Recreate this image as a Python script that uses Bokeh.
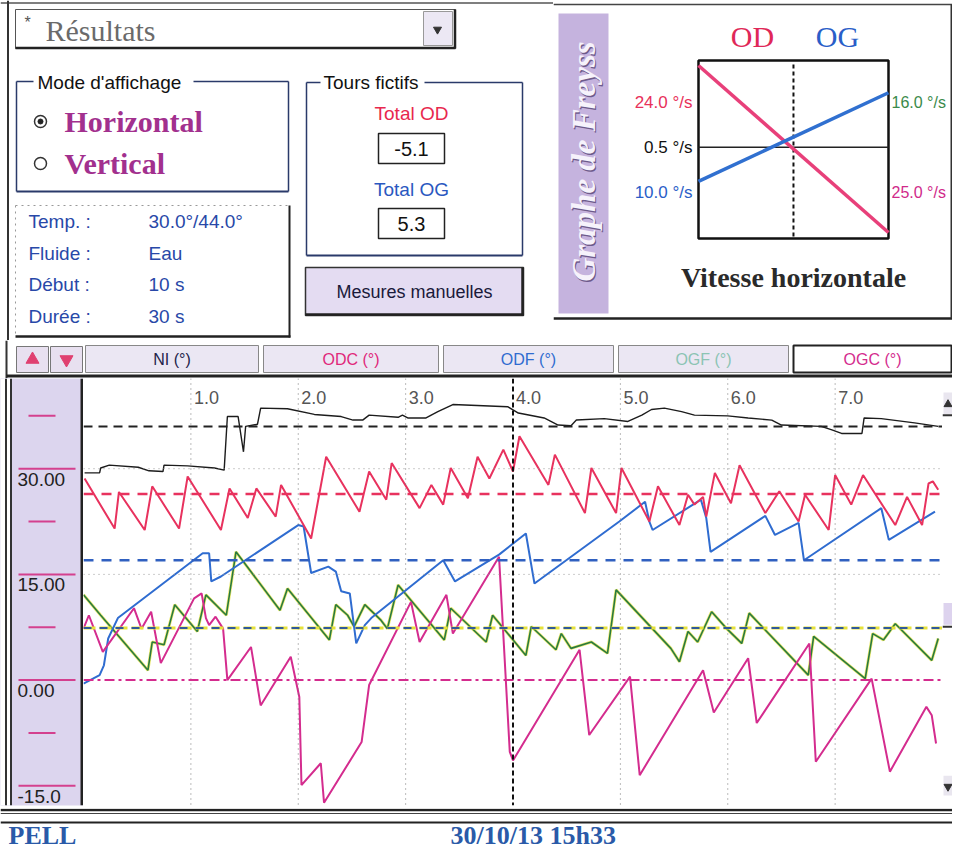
import math
from bokeh.plotting import figure
from bokeh.layouts import column, row
from bokeh.models import Range1d, Span, BoxAnnotation
from bokeh.core.properties import value
from bokeh.embed import file_html
from bokeh.resources import INLINE

# ------------------------------------------------------------------ data
# main chart (x: time scale 0..8, y: degrees as read on the left scale)
NI_X = [0.01, 0.15, 0.16, 0.24, 0.51, 0.61, 0.74, 0.75, 0.97, 1.22, 1.31, 1.34, 1.44, 1.49, 1.51, 1.62, 1.65,
        1.90, 2.15, 2.40, 2.51, 2.60, 2.66, 2.93, 2.97, 3.02, 3.19, 3.30, 3.44, 3.61, 3.95, 4.05, 4.29, 4.42,
        4.54, 4.59, 4.85, 5.07, 5.20, 5.29, 5.41, 5.57, 5.69, 6.00, 6.19, 6.41, 6.50, 6.87, 6.97, 7.06, 7.25,
        7.27, 7.43, 7.74, 7.96]
NI_Y = [29.4, 29.4, 30.1, 30.5, 30.2, 29.7, 29.6, 30.5, 30.4, 30.1, 29.8, 37.4, 37.4, 32.4, 36.0, 36.3, 38.6,
        38.5, 37.7, 37.4, 36.9, 36.9, 37.6, 37.3, 37.6, 37.2, 37.2, 38.1, 39.1, 39.0, 38.8, 37.9, 37.2, 36.2,
        36.1, 36.9, 37.1, 36.7, 37.6, 38.4, 38.6, 38.1, 37.6, 37.5, 37.2, 36.9, 36.2, 36.0, 35.5, 35.0, 35.0,
        37.2, 37.1, 36.5, 36.0]

ODC_X = [0.01, 0.29, 0.33, 0.57, 0.64, 0.89, 0.97, 1.28, 1.36, 1.53, 1.61, 1.79, 1.84, 2.12, 2.26, 2.57, 2.66,
         2.82, 2.87, 3.13, 3.24, 3.35, 3.42, 3.58, 3.67, 3.78, 3.91, 4.00, 4.06, 4.33, 4.39, 4.67, 4.73, 4.96,
         5.01, 5.27, 5.35, 5.55, 5.63, 5.69, 5.77, 5.80, 5.88, 5.97, 6.03, 6.11, 6.35, 6.48, 6.66, 6.72, 6.94,
         7.00, 7.15, 7.26, 7.56, 7.67, 7.81, 7.87, 7.91, 7.96]
ODC_Y = [28.6, 21.5, 26.7, 21.3, 27.5, 21.5, 28.9, 21.3, 27.2, 23.0, 27.2, 23.2, 27.7, 20.1, 31.7, 23.9, 29.6,
         25.6, 30.8, 24.4, 27.7, 24.9, 30.1, 25.8, 31.7, 28.6, 32.7, 29.6, 34.6, 27.7, 32.0, 23.7, 30.1, 23.7,
         30.1, 22.5, 27.5, 22.0, 26.3, 24.9, 26.0, 23.2, 29.4, 26.8, 25.1, 30.5, 23.7, 26.8, 22.5, 26.3, 21.3,
         29.1, 24.9, 29.1, 22.0, 26.0, 22.0, 27.9, 28.2, 27.0]

ODF_X = [0.0, 0.15, 0.19, 0.23, 0.32, 1.11, 1.17, 1.19, 1.28, 2.00, 2.05, 2.12, 2.28, 2.35, 2.40, 2.48, 2.54,
         2.62, 2.68, 3.35, 3.46, 3.87, 4.12, 4.20, 4.99, 5.23, 5.27, 5.30, 5.75, 5.80, 5.84, 6.35, 6.44, 6.66,
         6.71, 7.43, 7.50, 7.93]
ODF_Y = [-0.5, 0.7, 2.1, 5.9, 8.8, 18.0, 18.0, 14.0, 14.7, 22.0, 21.8, 15.2, 16.1, 15.4, 12.6, 12.3, 5.2,
         7.8, 8.8, 17.0, 14.0, 17.8, 20.8, 13.7, 22.5, 25.3, 22.5, 21.3, 25.6, 23.0, 18.2, 23.3, 20.6, 22.3,
         17.0, 24.4, 19.9, 23.9]

OGF_X = [0.0, 0.16, 0.60, 0.64, 0.75, 0.85, 1.06, 1.14, 1.33, 1.42, 1.83, 1.90, 2.29, 2.35, 2.46, 2.52, 2.62,
         2.77, 2.83, 2.93, 3.36, 3.42, 3.75, 3.81, 4.12, 4.17, 4.40, 4.45, 4.54, 4.73, 4.88, 4.96, 5.47, 5.55,
         5.63, 5.72, 5.85, 5.99, 6.13, 6.20, 6.75, 6.80, 7.28, 7.35, 7.45, 7.56, 7.90, 7.96]
OGF_Y = [12.1, 9.2, 1.4, 5.4, 5.0, 10.7, 6.9, 12.1, 9.2, 18.2, 9.9, 13.0, 5.7, 10.7, 9.2, 7.6, 10.7,
         8.5, 7.3, 13.5, 5.7, 10.2, 5.4, 9.2, 3.5, 7.6, 4.3, 6.6, 4.5, 5.4, 3.8, 12.8, 4.5, 2.6,
         6.9, 5.4, 9.7, 7.3, 5.2, 9.5, 0.7, 6.2, 0.2, 6.6, 5.7, 8.0, 2.8, 5.9]

OGC_X = [0.00, 0.05, 0.18, 0.47, 0.54, 0.63, 0.72, 1.03, 1.10, 1.14, 1.17, 1.23, 1.30, 1.34, 1.56, 1.65, 1.93,
         2.01, 2.03, 2.21, 2.24, 2.59, 2.66, 3.05, 3.13, 3.38, 3.44, 3.87, 3.97, 4.00, 4.62, 4.71, 5.09, 5.18,
         5.77, 5.87, 6.19, 6.27, 6.76, 6.82, 7.34, 7.51, 7.85, 7.90, 7.94]
OGC_Y = [7.3, 9.2, 4.0, 10.2, 7.3, 9.7, 2.4, 11.6, 12.3, 8.8, 7.8, 9.0, 7.3, 0.0, 4.7, -3.6, 3.3,
         -2.4, -14.9, -11.8, -17.4, -8.8, -0.7, 11.1, 5.4, 12.1, 6.6, 17.5, -10.2, -11.4, 4.3, -7.8, 0.5, -13.5,
         1.4, -4.6, 3.1, -6.1, 5.2, -11.6, 0.2, -13.0, -3.8, -5.0, -9.0]

LEVEL_NI, LEVEL_ODC, LEVEL_ODF, LEVEL_OGF, LEVEL_OGC = 36.0, 26.4, 17.0, 7.4, 0.0
CURSOR_X = 4.0

X_TICKS = [1, 2, 3, 4, 5, 6, 7]
X_TICK_LABELS = ["1.0", "2.0", "3.0", "4.0", "5.0", "6.0", "7.0"]
Y_TICKS = [30, 15, 0, -15]
Y_TICK_LABELS = ["30.00", "15.00", "0.00", "-15.0"]
Y_MINOR = [37.5, 22.5, 7.5, -7.5]
GRID_Y = [30, 15]

# small "Vitesse horizontale" chart
VH_X = [-1.0, 1.0]
VH_OD = [24.0, -25.0]
VH_OG = [-10.0, 16.0]
VH_LEFT_LABELS = ["24.0 °/s", "0.5 °/s", "10.0 °/s"]
VH_RIGHT_LABELS = ["16.0 °/s", "25.0 °/s"]

# panel texts
TAB_LABELS = ["NI (°)", "ODC (°)", "ODF (°)", "OGF (°)", "OGC (°)"]
INFO_KEYS = ["Temp. :", "Fluide :", "Début :", "Durée :"]
INFO_VALUES = ["30.0°/44.0°", "Eau", "10 s", "30 s"]
TOTAL_OD = "-5.1"
TOTAL_OG = "5.3"
FOOTER_NAME = "PELL"
FOOTER_DATE = "30/10/13 15h33"

# ------------------------------------------------------------------ styles
SANS = "Liberation Sans"
SERIF = "Liberation Serif"
RED = "#e8325e"
BLUE = "#2f6cd0"
GREEN = "#2a7a40"
YELLOW = "#e6e23a"
MAGENTA = "#d42c8e"
BLACK = "#1c1c1c"
BAND = "#dcd5ee"
TABFILL = "#ebe7f3"
TAB_COLORS = ["#23234a", "#e0287a", BLUE, "#8cc4b4", MAGENTA]
INFO_BLUE = "#2848a8"


def canvas(w, h, x0, x1, y_top, y_bottom, bg="white"):
    p = figure(width=w, height=h, x_range=Range1d(x0, x1), y_range=Range1d(y_bottom, y_top),
               x_axis_type=None, y_axis_type=None, toolbar_location=None, output_backend="svg",
               min_border=0, outline_line_color=None, background_fill_color=bg, border_fill_color=bg)
    return p


def txt(p, x, y, s, size, color, font=SANS, style="normal", align="left", baseline="middle", angle=0.0):
    p.text(x=[x], y=[y], text=[s], text_font=value(font), text_font_size=f"{size}px",
           text_font_style=style, text_color=color, text_align=align, text_baseline=baseline, angle=angle)


def seg(p, x0, y0, x1, y1, color="#222", w=1.0, dash="solid"):
    p.segment(x0=[x0], y0=[y0], x1=[x1], y1=[y1], line_color=color, line_width=w, line_dash=dash)


def box(p, l, r, t, b, fill=None, line=None, w=1.0):
    p.quad(left=[l], right=[r], top=[t], bottom=[b], fill_color=fill, line_color=line, line_width=w)


# ------------------------------------------------------------------ top-left panel
tl = canvas(553, 340, 0, 553, 0, 340)
seg(tl, 0, 2.5, 553, 2.5, "#555", 1.5)
seg(tl, 7.5, 0, 7.5, 340, "#333", 2)
# combo box
box(tl, 15, 455, 9, 48, fill="white", line="#555", w=1)
seg(tl, 15, 47.5, 455, 47.5, "#222", 2.5)
seg(tl, 454.5, 9, 454.5, 48, "#222", 2.5)
box(tl, 423, 452, 11, 45, fill="#ece8f4", line="#999", w=1)
tl.scatter(x=[437], y=[29], marker="inverted_triangle", size=8, fill_color="#333", line_color="#333")
txt(tl, 24, 22, "*", 16, "#555")
txt(tl, 45, 30, "Résultats", 30, "#6a6a6a", font=SERIF)
# Mode d'affichage group
GB = "#2a3a6a"
seg(tl, 16, 81, 33, 81, GB, 1.5)
seg(tl, 193, 81, 288, 81, GB, 1.5)
seg(tl, 16, 81, 16, 191, GB, 1.5)
seg(tl, 16, 191, 288, 191, GB, 2)
seg(tl, 288, 81, 288, 191, GB, 1.5)
txt(tl, 37, 82, "Mode d'affichage", 19, "#111")
tl.scatter(x=[40, 40], y=[121, 163], size=12, marker="circle", fill_color="white", line_color="#333", line_width=1.5)
tl.scatter(x=[40], y=[121], size=5, marker="circle", fill_color="#222", line_color="#222")
txt(tl, 64, 121, "Horizontal", 30, "#a2308e", font=SERIF, style="bold")
txt(tl, 64, 163, "Vertical", 30, "#a2308e", font=SERIF, style="bold")
# info box
seg(tl, 15, 205, 290, 205, "#999", 1, "2 4")
seg(tl, 15, 205, 15, 336, "#999", 1, "2 4")
seg(tl, 289, 205, 289, 337, "#222", 2)
seg(tl, 15, 336, 290, 336, "#222", 2.5)
for i, (k, v) in enumerate(zip(INFO_KEYS, INFO_VALUES)):
    yy = 221 + i * 31.7
    txt(tl, 28, yy, k, 19, INFO_BLUE)
    txt(tl, 148, yy, v, 19, INFO_BLUE)
# Tours fictifs group
seg(tl, 306, 82, 320, 82, GB, 1.5)
seg(tl, 424, 82, 522, 82, GB, 1.5)
seg(tl, 306, 82, 306, 255, GB, 1.5)
seg(tl, 306, 255, 522, 255, GB, 2)
seg(tl, 522, 82, 522, 255, GB, 1.5)
txt(tl, 323, 82, "Tours fictifs", 19, "#111")
txt(tl, 411, 113, "Total OD", 19, "#e8284e", align="center")
box(tl, 378, 444, 133, 163, fill="white", line="#222", w=1.5)
txt(tl, 411, 148, TOTAL_OD, 20, "#111", align="center")
txt(tl, 411, 189, "Total OG", 19, "#2a58c0", align="center")
box(tl, 378, 444, 208, 238, fill="white", line="#222", w=1.5)
txt(tl, 411, 223, TOTAL_OG, 20, "#111", align="center")
# button
box(tl, 305, 523, 267, 315, fill="#e4dcf2", line="#333", w=1.5)
seg(tl, 305, 314, 523, 314, "#222", 2.5)
seg(tl, 522, 267, 522, 315, "#222", 2.5)
txt(tl, 414, 291, "Mesures manuelles", 18, "#1a1a3a", align="center")

# ------------------------------------------------------------------ top-right panel (Freyss graph)
tr = canvas(399, 340, 553, 952, 0, 340)
tr.extra_x_ranges = {"vx": Range1d(-2.526, 1.674)}
tr.extra_y_ranges = {"vy": Range1d(-56.69, 43.075)}
seg(tr, 553, 4, 952, 4, "#444", 1.5)
box(tr, 558, 608, 13, 313, fill="#c5b3de")
txt(tr, 584.5, 162.5, "Graphe de Freyss", 33, "#6d5a8a", font=SERIF, style="bold italic",
    align="center", angle=math.pi / 2)
txt(tr, 583, 161, "Graphe de Freyss", 33, "#f6f2fb", font=SERIF, style="bold italic",
    align="center", angle=math.pi / 2)
seg(tr, 553, 318, 952, 318, "#222", 2.5)
seg(tr, 951, 4, 951, 318, "#333", 2)
txt(tr, 752, 36, "OD", 30, "#e02858", font=SERIF, align="center")
txt(tr, 837, 36, "OG", 30, "#2a5ec8", font=SERIF, align="center")
box(tr, 698, 888, 60, 238, fill="white", line="#111", w=2.5)
tr.line(x=[0, 0], y=[-26.2, 25.0], x_range_name="vx", y_range_name="vy",
        line_color="#111", line_width=2, line_dash="4 3")
tr.line(x=VH_X, y=[0, 0], x_range_name="vx", y_range_name="vy", line_color="#222", line_width=1.5)
tr.line(x=VH_X, y=VH_OD, x_range_name="vx", y_range_name="vy", line_color="#e8407a", line_width=3.5)
tr.line(x=VH_X, y=VH_OG, x_range_name="vx", y_range_name="vy", line_color="#3070d0", line_width=3.5)
for s, yy, c in zip(VH_LEFT_LABELS, [102, 147, 192], ["#e8305a", "#111", "#2a5ec8"]):
    txt(tr, 692, yy, s, 17, c, align="right")
for s, yy, c in zip(VH_RIGHT_LABELS, [102, 192], ["#3a8a4a", "#d02a8a"]):
    txt(tr, 891, yy, s, 16, c)
txt(tr, 793, 277, "Vitesse horizontale", 28, "#2a2a2a", font=SERIF, style="bold", align="center")

# ------------------------------------------------------------------ tab bar
tabs = canvas(952, 38, 0, 952, 340, 378)
seg(tabs, 6, 340, 6, 378, "#333", 2)
box(tabs, 16, 48, 346, 372, fill="#e8e0f0", line="#777")
box(tabs, 50, 82, 346, 372, fill="#e8e0f0", line="#777")
tabs.scatter(x=[32], y=[359], marker="triangle", size=13, fill_color="#e04070", line_color="#e04070")
tabs.scatter(x=[66], y=[359], marker="inverted_triangle", size=13, fill_color="#e04070", line_color="#e04070")
TAB_EDGES = [(85, 258), (263, 438), (443, 613), (618, 788), (793, 951)]
for i, ((l, r), lab, c) in enumerate(zip(TAB_EDGES, TAB_LABELS, TAB_COLORS)):
    sel = i == len(TAB_LABELS) - 1
    box(tabs, l, r, 345, 372, fill="white" if sel else TABFILL, line="#222" if sel else "#888",
        w=2 if sel else 1)
    txt(tabs, (l + r) / 2, 359, lab, 16, c, align="center")
seg(tabs, 6, 375.5, 952, 375.5, "#222", 3)

# ------------------------------------------------------------------ main chart
Y_START, Y_END = -17.8, 42.8
X_START, X_END = 0.0, 8.0
main = figure(width=859, height=430, x_range=Range1d(X_START, X_END), y_range=Range1d(Y_START, Y_END),
              x_axis_type=None, y_axis_type=None, toolbar_location=None, output_backend="svg",
              min_border=0, outline_line_color=None, background_fill_color="white", border_fill_color="white")
main.min_border_bottom = 3

for t in X_TICKS:
    if t != CURSOR_X:
        main.add_layout(Span(location=t, dimension="height", line_color="#777", line_width=1, line_dash="1 4"))
for g in GRID_Y:
    main.add_layout(Span(location=g, dimension="width", line_color="#999", line_width=1, line_dash="1 4"))

main.add_layout(Span(location=LEVEL_NI, dimension="width", line_color="#222", line_width=2, line_dash="9 6"))
main.add_layout(Span(location=LEVEL_ODC, dimension="width", line_color=RED, line_width=2.5, line_dash="10 8"))
main.add_layout(Span(location=LEVEL_ODF, dimension="width", line_color="#3060c0", line_width=2.5, line_dash="10 8"))
main.add_layout(Span(location=LEVEL_OGF, dimension="width", line_color=YELLOW, line_width=3, line_dash="12 4"))
main.add_layout(Span(location=LEVEL_OGF, dimension="width", line_color="#305a9a", line_width=2, line_dash="8 8"))
main.add_layout(Span(location=LEVEL_OGC, dimension="width", line_color=MAGENTA, line_width=2, line_dash="10 4 3 4"))
main.add_layout(Span(location=CURSOR_X, dimension="height", line_color="#111", line_width=2, line_dash="5 3"))

main.line(NI_X, NI_Y, line_color=BLACK, line_width=1.4)
main.line(OGF_X, OGF_Y, line_color=YELLOW, line_width=3, line_alpha=0.75)
main.line(OGF_X, OGF_Y, line_color=GREEN, line_width=1.6)
main.line(ODF_X, ODF_Y, line_color=BLUE, line_width=2)
main.line(ODC_X, ODC_Y, line_color=RED, line_width=2)
main.line(OGC_X, OGC_Y, line_color=MAGENTA, line_width=2)

main.text(x=X_TICKS, y=Y_END, text=X_TICK_LABELS, x_offset=3, y_offset=12, text_font=value(SANS),
          text_font_size="18px", text_color="#555", text_align="left", text_baseline="top")

# left scale band
band = figure(width=83, height=430, x_range=Range1d(0, 83), y_range=main.y_range,
              x_axis_type=None, y_axis_type=None, toolbar_location=None, output_backend="svg",
              min_border=0, outline_line_color=None, background_fill_color=BAND, border_fill_color="white")
band.min_border_bottom = 3
band.add_layout(BoxAnnotation(left=0, right=11, fill_color="white", fill_alpha=1, line_color=None))
band.add_layout(Span(location=5.5, dimension="height", line_color="#333", line_width=2))
band.add_layout(Span(location=10.5, dimension="height", line_color="#333", line_width=2))
band.add_layout(Span(location=81.5, dimension="height", line_color="#222", line_width=3))
band.segment(x0=18, y0=Y_TICKS, x1=75, y1=Y_TICKS, line_color="#d4408e", line_width=2)
band.segment(x0=28, y0=Y_MINOR, x1=55, y1=Y_MINOR, line_color="#d4408e", line_width=2)
band.text(x=17, y=Y_TICKS, text=Y_TICK_LABELS, y_offset=4, text_font=value(SANS), text_font_size="19px",
          text_color="#222", text_align="left", text_baseline="top")

# scrollbar
scroll = canvas(10, 430, 942, 952, 378, 808)
box(scroll, 943, 952, 392, 414, fill="#e9e6ef")
scroll.scatter(x=[947.5], y=[404], marker="triangle", size=8, fill_color="#333", line_color="#333")
seg(scroll, 942, 415, 952, 415, "#333", 2)
box(scroll, 943, 952, 604, 626, fill="#ddd3ee")
seg(scroll, 942, 628, 952, 628, "#333", 2)
box(scroll, 943, 952, 778, 798, fill="#e9e6ef")
scroll.scatter(x=[947.5], y=[789], marker="inverted_triangle", size=8, fill_color="#333", line_color="#333")

# ------------------------------------------------------------------ footer
foot = canvas(952, 42, 0, 952, 808, 850)
seg(foot, 0, 809.5, 952, 809.5, "#222", 2.5)
seg(foot, 0, 813, 952, 813, "#444", 1.2)
seg(foot, 0, 822, 952, 822, "#222", 2)
txt(foot, 8, 849, FOOTER_NAME, 26, "#2a5aa8", font=SERIF, style="bold", baseline="bottom")
txt(foot, 450, 849, FOOTER_DATE, 26, "#2a5aa8", font=SERIF, style="bold", baseline="bottom")

layout = column(row(tl, tr, spacing=0), tabs, row(band, main, scroll, spacing=0), foot, spacing=0)
open("out.html", "w").write(file_html(layout, INLINE))
